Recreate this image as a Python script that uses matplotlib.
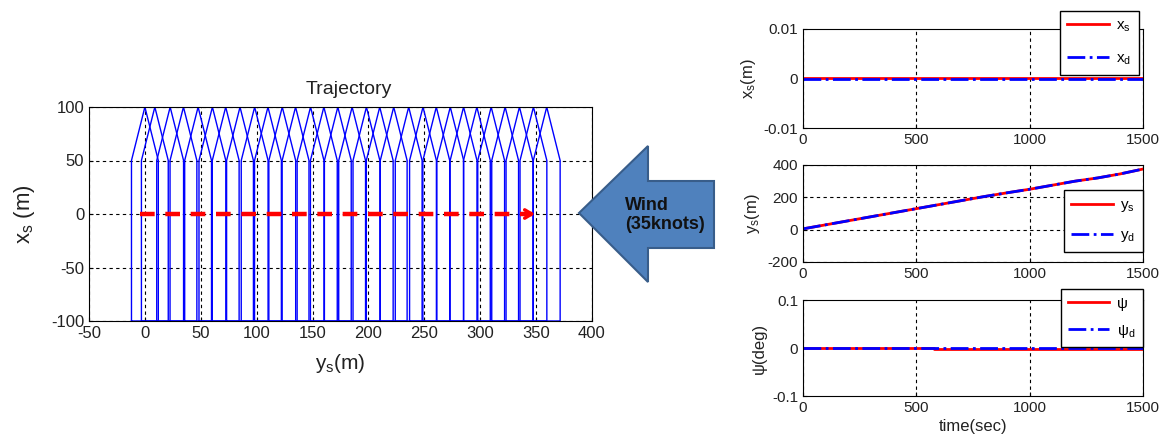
import matplotlib
matplotlib.use("Agg")
import matplotlib.pyplot as plt
from matplotlib.patches import Polygon
import numpy as np

plt.rcParams['font.family'] = ['Liberation Sans', 'DejaVu Sans']
plt.rcParams['axes.unicode_minus'] = False
plt.rcParams['mathtext.fontset'] = 'custom'
plt.rcParams['mathtext.rm'] = 'Liberation Sans'
plt.rcParams['mathtext.it'] = 'Liberation Sans:italic'

# ---------------- data ----------------
ship_centers = [0, 8.9, 22.6, 34.5, 47.6, 60.4, 72.3, 85.1, 98.2, 110.1, 122.9, 134.8,
                148.2, 160.1, 172.6, 185.4, 198.2, 210.1, 222.6, 236.0, 248.8, 260.7,
                273.2, 285.1, 297.0, 309.8, 322.3, 335.1, 347.6, 359.5]
ship_half_width = 12
hull_x = [-100, 50, 100, 50, -100, -100]
hull_side = [-1, -1, 0, 1, 1, -1]
path_start = -4.5
path_end = 349

t_xs = [0, 1500]
xs_vals = [0.0001, 0.0001]
xd_vals = [0.0, 0.0]

t_y = [0, 100, 200, 300, 400, 500, 600, 700, 800, 900, 1000, 1100, 1200, 1300, 1400, 1500]
ys_vals = [5, 30, 55, 80, 105, 130, 155, 180, 205, 228, 250, 275, 300, 320, 345, 375]
yd_vals = [5, 30, 55, 80, 105, 130, 155, 180, 205, 228, 250, 275, 300, 320, 345, 375]

t_psi = [0, 580, 580, 1500]
psi_vals = [0.0, 0.0, -0.003, -0.003]
psid_vals = [0.0, 0.0, -0.001, -0.001]

W, H = 1161, 437
fig = plt.figure(figsize=(W / 100, H / 100), dpi=100)


def px_axes(x0, y0, x1, y1):
    return fig.add_axes([x0 / W, 1 - y1 / H, (x1 - x0) / W, (y1 - y0) / H])


grid_kw = dict(color='black', linestyle=(0, (3, 3)), linewidth=0.8)
text_col = '#222222'

# ---------------- trajectory ----------------
ax = px_axes(89, 107, 592, 321)
for c in ship_centers:
    ax.plot([c + s * ship_half_width for s in hull_side], hull_x, color='blue', lw=1.0)
ax.plot([path_start, path_end - 3], [0, 0], color='red', lw=3.2,
        linestyle=(0, (3.3, 2.4)), solid_capstyle='butt')
ax.annotate('', xy=(path_end, 0), xytext=(path_end - 10, 0),
            arrowprops=dict(arrowstyle='->,head_length=0.5,head_width=0.3', color='red', lw=2.5,
                            shrinkA=0, shrinkB=0))
ax.set_xlim(-50, 400)
ax.set_ylim(-100, 100)
ax.set_xticks(np.arange(-50, 401, 50))
ax.set_yticks(np.arange(-100, 101, 50))
ax.grid(True, **grid_kw)
ax.tick_params(labelsize=12, direction='in', length=3, labelcolor=text_col)
ax.set_title('Trajectory', fontsize=14, pad=9, x=0.516, color=text_col)
ax.set_xlabel(r'y$_{\rm s}$(m)', fontsize=15, labelpad=8, color=text_col)
ax.set_ylabel(r'x$_{\rm s}$ (m)', fontsize=16, labelpad=10, color=text_col)

# ---------------- wind arrow ----------------
arrow_px = [(579, 213), (648, 146), (648, 181), (714, 181), (714, 248), (648, 248), (648, 282)]
arrow_fig = [(x / W, 1 - y / H) for x, y in arrow_px]
fig.patches.append(Polygon(arrow_fig, closed=True, transform=fig.transFigure,
                           facecolor='#4F81BD', edgecolor='#385D8A', lw=1.5, zorder=5))
fig.text(625 / W, 1 - 215 / H, 'Wind\n(35knots)', fontsize=13, fontweight='bold',
         ha='left', va='center', color='#111111', zorder=6, linespacing=1.15)

# ---------------- right panels ----------------
rkw = dict(labelsize=11, direction='in', length=3, labelcolor=text_col)
leg_kw = dict(fontsize=11, fancybox=False, edgecolor='black', framealpha=1,
              handlelength=2.7, borderpad=0.5, handletextpad=0.5, borderaxespad=0)

a1 = px_axes(803, 29, 1143, 128)
a1.plot(t_xs, xs_vals, color='red', lw=2, label=r'x$_{\rm s}$')
a1.plot(t_xs, xd_vals, color='blue', lw=2, linestyle='-.', label=r'x$_{\rm d}$')
a1.set_xlim(0, 1500)
a1.set_ylim(-0.01, 0.01)
a1.set_xticks([0, 500, 1000, 1500])
a1.set_yticks([-0.01, 0, 0.01])
a1.set_yticklabels(['-0.01', '0', '0.01'])
a1.grid(True, axis='x', **grid_kw)
a1.tick_params(**rkw)
a1.set_ylabel(r'x$_{\rm s}$(m)', fontsize=12, labelpad=4, color=text_col)
a1.legend(loc='upper right', bbox_to_anchor=(0.988, 1.182), labelspacing=1.15, **leg_kw)

a2 = px_axes(803, 165, 1143, 262)
a2.plot(t_y, ys_vals, color='red', lw=2, label=r'y$_{\rm s}$')
a2.plot(t_y, yd_vals, color='blue', lw=2, linestyle='-.', label=r'y$_{\rm d}$')
a2.set_xlim(0, 1500)
a2.set_ylim(-200, 400)
a2.set_xticks([0, 500, 1000, 1500])
a2.set_yticks([-200, 0, 200, 400])
a2.grid(True, **grid_kw)
a2.tick_params(**rkw)
a2.set_ylabel(r'y$_{\rm s}$(m)', fontsize=12, labelpad=4, color=text_col)
a2.legend(loc='lower right', bbox_to_anchor=(1.0, 0.103), labelspacing=0.95, **leg_kw)

a3 = px_axes(803, 300, 1143, 396)
a3.plot(t_psi, psi_vals, color='red', lw=2, label='ψ')
a3.plot(t_psi, psid_vals, color='blue', lw=2, linestyle='-.', label=r'ψ$_{\rm d}$')
a3.set_xlim(0, 1500)
a3.set_ylim(-0.1, 0.1)
a3.set_xticks([0, 500, 1000, 1500])
a3.set_yticks([-0.1, 0, 0.1])
a3.set_yticklabels(['-0.1', '0', '0.1'])
a3.grid(True, axis='x', **grid_kw)
a3.tick_params(**rkw)
a3.set_ylabel('ψ(deg)', fontsize=12, labelpad=4, color=text_col)
a3.set_xlabel('time(sec)', fontsize=12, labelpad=3, color=text_col)
a3.legend(loc='upper right', bbox_to_anchor=(1.0, 1.115), labelspacing=0.8, **leg_kw)

fig.savefig('out.png', dpi=100)
